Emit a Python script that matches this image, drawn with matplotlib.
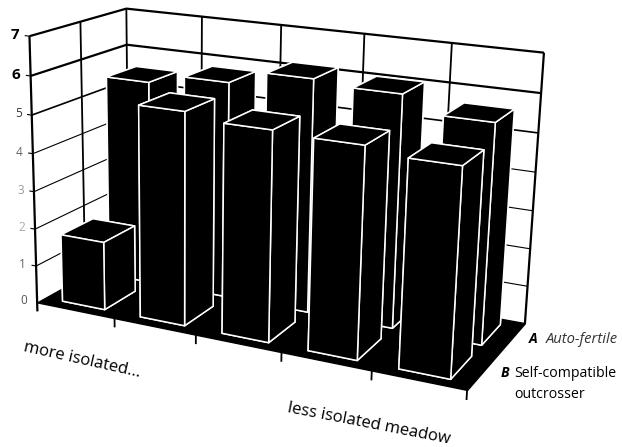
import numpy as np
import matplotlib
matplotlib.use('Agg')
import matplotlib.pyplot as plt
from mpl_toolkits.mplot3d import proj3d
from mpl_toolkits.mplot3d.art3d import Poly3DCollection

plt.rcParams['font.family'] = ['Open Sans', 'DejaVu Sans']

# 柱の高さ (手前 B, 奥 A)
values_b = [1.82, 5.52, 5.36, 5.30, 5.14]
values_a = [5.52, 5.78, 6.14, 6.03, 5.62]
z_ticks = [0, 1, 2, 3, 4, 5, 6, 7]
z_tick_colors = ['#555555', '#666666', '#aaaaaa', '#999999', '#666666', '#333333', 'black', 'black']

W, H = 622, 447
n_x = len(values_b)
n_y = 2
z_max = z_ticks[-1]

fig = plt.figure(figsize=(W / 100, H / 100), dpi=100)
ax = fig.add_axes([-5.1 / W, -21.5 / H, 557.8 / W, 557.8 / H], projection='3d', computed_zorder=False)
ax.set_proj_type('persp', focal_length=0.4957)
ax.view_init(elev=16.451, azim=-65.0, roll=-1.152)
ax.set_box_aspect((1, 0.3939, 0.5988))
ax.set_xlim(0, n_x)
ax.set_ylim(0, n_y)
ax.set_zlim(0, z_max)
ax.set_axis_off()
ax.patch.set_alpha(0)


def line3(xs, ys, zs, lw=1.4, zorder=1):
    ax.plot(xs, ys, zs, color='black', lw=lw, zorder=zorder, solid_capstyle='butt')


# 壁のグリッド
for z in z_ticks[1:]:
    lw = 1.6 if z >= 6 else (1.2 if z == 5 else 0.8)
    line3([0, 0, n_x], [0, n_y, n_y], [z, z, z], lw=lw)
    # 目盛り
    line3([-0.06, 0], [0, 0], [z, z], lw=0.8)

line3([0, 0], [0, 0], [-0.25, z_max], lw=1.6)
line3([0, 0], [1, 1], [0, z_max], lw=1.3)
line3([0, 0], [n_y, n_y], [0, z_max], lw=1.3)
for x in range(1, n_x):
    line3([x, x], [n_y, n_y], [0, z_max], lw=1.3)
line3([n_x, n_x], [n_y, n_y], [0, z_max], lw=1.6)

# 床
floor = Poly3DCollection([[(0, 0, 0), (n_x, 0, 0), (n_x, n_y, 0), (0, n_y, 0)]],
                         facecolor='black', edgecolor='black', linewidth=1, zorder=2)
ax.add_collection3d(floor)
for x in range(1, n_x + 1):
    line3([x, x], [0, 0], [-0.25, 0], lw=1.3, zorder=2)

# 柱 (奥の列から描く)
margin, y0, y1 = 0.226, 0.167, 0.830
for row, values in enumerate([values_a, values_b]):
    y_pos = (1 - row) + y0
    for i, v in enumerate(values):
        ax.bar3d(i + margin, y_pos, 0, 1 - 2 * margin, y1 - y0, v,
                 color='black', edgecolor='white', linewidth=1.1, shade=False,
                 zorder=3 + row * 10 + i)

# 目盛りラベルは投影後の位置に置く
proj = ax.get_proj()
for z, c in zip(z_ticks, z_tick_colors):
    u, v, _ = proj3d.proj_transform(-0.13, 0, z, proj)
    x_px, y_px = ax.transData.transform((u, v))
    big = z >= 6
    fig.text(x_px / W, y_px / H, str(z), ha='right', va='center',
             fontsize=11 if big else 8.5, fontweight='bold' if big else 'normal', color=c)


def px_text(x, y, s, **kw):
    fig.text(x / W, 1 - y / H, s, rotation_mode='anchor', va='baseline', **kw)


px_text(23, 351, 'more isolated...', rotation=-12.6, fontsize=12)
px_text(287, 412, 'less isolated meadow', rotation=-11, fontsize=12)
px_text(529, 343, 'A', fontsize=10, fontweight='bold', style='italic')
px_text(546, 343, 'Auto-fertile', fontsize=10.6, style='italic', color='#333333')
px_text(501, 377, 'B', fontsize=10, fontweight='bold', style='italic')
px_text(514, 377, 'Self-compatible', fontsize=10.2)
px_text(514, 398, 'outcrosser', fontsize=10.2)

fig.savefig('out.png', dpi=100)
